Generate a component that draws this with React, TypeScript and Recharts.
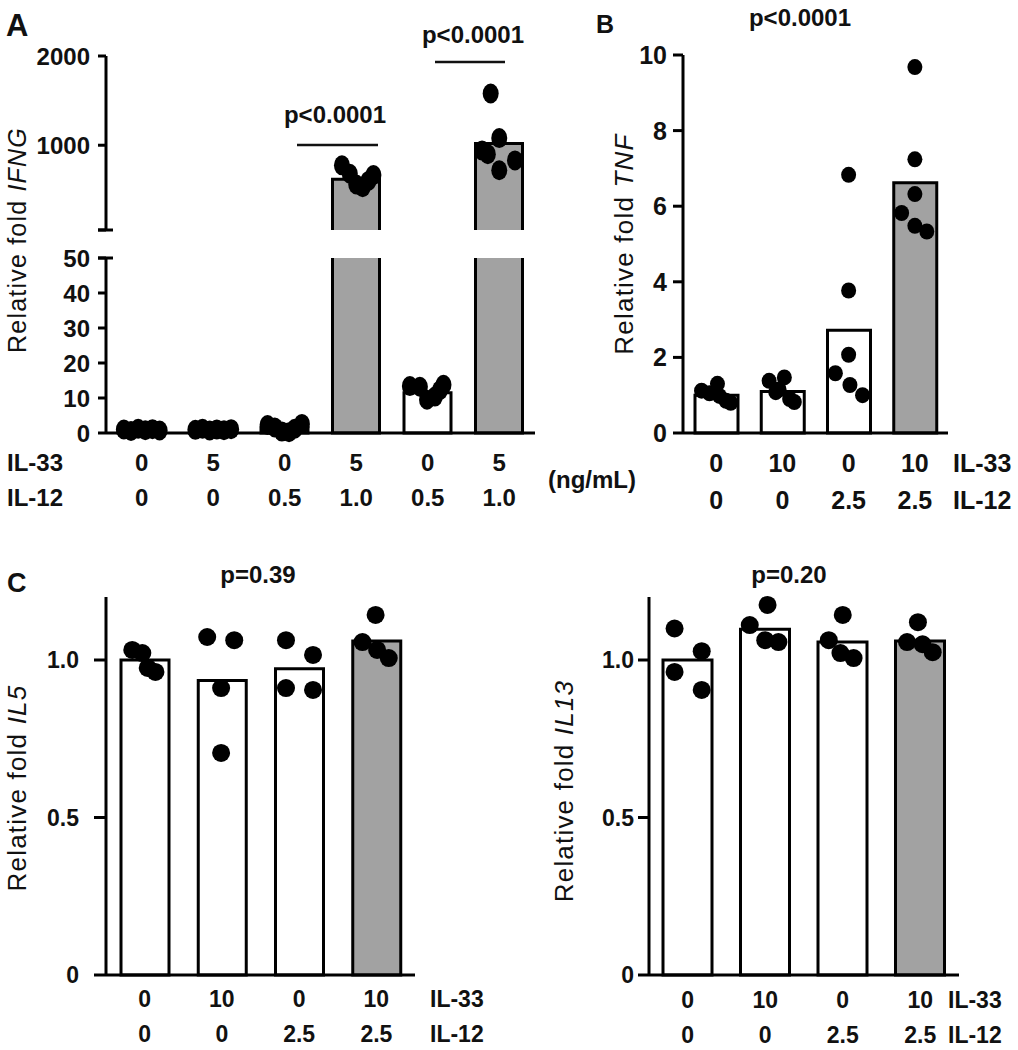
import React from 'react';
import { ComposedChart, Bar, Scatter, XAxis, YAxis } from 'recharts';

const FONT = '"Liberation Sans", Arial, Helvetica, sans-serif';
const GRAY = '#a2a2a2';

// ---- Panel A: IFNG ----
const ifngIL33 = ['0', '5', '0', '5', '0', '5'];
const ifngIL12 = ['0', '0', '0.5', '1.0', '0.5', '1.0'];
const ifngMeans = [1.0, 1.0, 1.5, 620, 11.5, 1020];
const ifngFilled = [false, false, false, true, false, true];
const ifngPoints = [
  [1.0, 0.6, 1.2, 0.8, 1.1, 0.7],
  [0.9, 1.2, 0.7, 1.0, 0.8, 1.1],
  [2.3, 1.6, 0.4, 0.2, 1.2, 2.6],
  [775, 680, 560, 530, 600, 665],
  [13.4, 13.2, 9.5, 10.4, 12.2, 13.8],
  [1580, 1080, 940, 900, 830, 720],
];
const ifngJitter = [
  [-0.25, -0.15, -0.05, 0.05, 0.15, 0.25],
  [-0.25, -0.15, -0.05, 0.05, 0.15, 0.25],
  [-0.24, -0.14, -0.04, 0.06, 0.14, 0.24],
  [-0.2, -0.09, 0.0, 0.09, 0.17, 0.24],
  [-0.25, -0.11, -0.01, 0.1, 0.17, 0.22],
  [-0.12, 0.0, -0.24, -0.16, 0.22, 0.0],
];
const ifngBreak = 50;
const ifngTopTicks = [50, 1000, 2000];
const ifngLowTicks = [0, 10, 20, 30, 40, 50];

// ---- Panel B: TNF ----
const tnfIL33 = ['0', '10', '0', '10'];
const tnfIL12 = ['0', '0', '2.5', '2.5'];
const tnfMeans = [1.0, 1.1, 2.72, 6.62];
const tnfFilled = [false, false, false, true];
const tnfPoints = [
  [1.12, 1.05, 1.3, 0.98, 0.85, 0.8],
  [1.38, 1.08, 1.47, 1.15, 0.9, 0.82],
  [6.83, 3.77, 2.07, 1.58, 1.27, 1.0],
  [9.68, 7.24, 6.32, 5.82, 5.48, 5.33],
];
const tnfJitter = [
  [-0.22, -0.1, 0.02, 0.05, 0.15, 0.22],
  [-0.2, -0.1, 0.03, -0.05, 0.11, 0.18],
  [0.0, 0.0, 0.0, -0.2, 0.02, 0.21],
  [0.0, 0.0, 0.0, -0.2, 0.0, 0.18],
];
const tnfTicks = [0, 2, 4, 6, 8, 10];

// ---- Panel C: IL5 / IL13 ----
const cIL33 = ['0', '10', '0', '10'];
const cIL12 = ['0', '0', '2.5', '2.5'];
const cFilled = [false, false, false, true];
const il5Means = [1.0, 0.935, 0.972, 1.06];
const il5Points = [
  [1.032, 1.022, 0.975, 0.962],
  [1.073, 1.063, 0.911, 0.705],
  [1.063, 1.016, 0.911, 0.905],
  [1.143, 1.057, 1.032, 1.006],
];
const il5Jitter = [
  [-0.16, -0.03, 0.04, 0.14],
  [-0.19, 0.16, -0.01, -0.01],
  [-0.17, 0.18, -0.17, 0.18],
  [-0.01, -0.18, 0.01, 0.16],
];
const il13Means = [1.0, 1.098, 1.057, 1.06];
const il13Points = [
  [1.1, 1.028, 0.962, 0.905],
  [1.175, 1.111, 1.063, 1.057],
  [1.143, 1.063, 1.022, 1.006],
  [1.12, 1.057, 1.05, 1.025],
];
const il13Jitter = [
  [-0.17, 0.18, -0.17, 0.18],
  [0.03, -0.2, 0.0, 0.17],
  [0.0, -0.18, -0.03, 0.14],
  [-0.03, -0.17, 0.03, 0.16],
];
const cTicks = [0, 0.5, 1.0];

function toBars(means: number[], filled: boolean[], il33: string[], il12: string[], map = (v: number) => v) {
  return means.map((m, i) => ({ name: `${il33[i]}/${il12[i]}`, v: map(m), raw: m, filled: filled[i] }));
}

function toDots(points: number[][], jitter: number[][], keep = (v: number) => true) {
  const out: { x: number; v: number }[] = [];
  points.forEach((grp, i) =>
    grp.forEach((v, k) => {
      if (keep(v)) out.push({ x: i + jitter[i][k], v });
    })
  );
  return out;
}

// bar with optional missing top/bottom edge (for the broken axis)
function barShape(mode: 'top' | 'low' | 'full') {
  return (p: any) => {
    const { x, y, width: w, height: h, payload } = p;
    if (h == null || isNaN(h)) return <g />;
    const fill = payload.filled ? GRAY : '#fff';
    let d = `M${x},${y} H${x + w} V${y + h} H${x} Z`;
    if (mode === 'top') d = `M${x},${y + h} V${y} H${x + w} V${y + h}`;
    if (mode === 'low' && payload.raw > ifngBreak) d = `M${x},${y} V${y + h} H${x + w} V${y}`;
    return (
      <g>
        <rect x={x} y={y} width={w} height={h} fill={fill} />
        <path d={d} fill="none" stroke="#000" strokeWidth={3} strokeLinejoin="miter" />
      </g>
    );
  };
}

function dotShape(rx: number, ry: number) {
  return (p: any) => <ellipse cx={p.cx} cy={p.cy} rx={rx} ry={ry} fill="#000" />;
}

function yTick(size: number, hide: number[] = [], fmt = (v: number) => String(v)) {
  return (p: any) => {
    const v = p.payload.value;
    if (hide.includes(v)) return <g />;
    return (
      <text x={p.x} y={p.y} dy="0.36em" textAnchor="end" fontFamily={FONT} fontWeight="bold" fontSize={size} fill="#111">
        {fmt(v)}
      </text>
    );
  };
}

function xTick(rows: string[][], offs: number[], size: number) {
  return (p: any) => (
    <g>
      {rows.map((r, k) => (
        <text key={k} x={p.x} y={p.y + offs[k]} textAnchor="middle" fontFamily={FONT} fontWeight="bold" fontSize={size} fill="#111">
          {r[p.index]}
        </text>
      ))}
    </g>
  );
}

const axisLine = { stroke: '#000', strokeWidth: 3 };
const tickLine = { stroke: '#000', strokeWidth: 3 };

function Label({ x, y, size = 24, anchor = 'start', children }: any) {
  return (
    <text x={x} y={y} textAnchor={anchor} fontFamily={FONT} fontWeight="bold" fontSize={size} fill="#111">
      {children}
    </text>
  );
}

function YTitle({ cx, cy, gene, size = 26 }: any) {
  return (
    <text transform={`translate(${cx},${cy}) rotate(-90)`} textAnchor="middle" dy="0.35em" fontFamily={FONT} fontSize={size} letterSpacing={1.2} fill="#111">
      Relative fold <tspan fontStyle="italic">{gene}</tspan>
    </text>
  );
}

function Panel({ data, dots, domain, ticks, tickFn, tickSize, tickMargin, xFn, n, barSize, r, mode, width, height, margin, hideX }: any) {
  return (
    <ComposedChart width={width} height={height} data={data} margin={margin}>
      <XAxis xAxisId="cat" dataKey="name" type="category" hide={hideX} height={hideX ? 0 : 30} interval={0} axisLine={axisLine} tickLine={false} tickSize={0} tickMargin={0} tick={xFn} />
      <XAxis xAxisId="num" dataKey="x" type="number" domain={[-0.5, n - 0.5]} hide height={0} />
      <YAxis dataKey="v" width={60} domain={domain} ticks={ticks} interval={0} axisLine={axisLine} tickLine={tickLine} tickSize={tickSize} tickMargin={tickMargin} tick={tickFn} />
      <Bar xAxisId="cat" dataKey="v" barSize={barSize} isAnimationActive={false} shape={barShape(mode)} />
      <Scatter xAxisId="num" data={dots} dataKey="v" isAnimationActive={false} shape={dotShape(r[0], r[1])} />
    </ComposedChart>
  );
}

export default function App() {
  const aTopBars = toBars(ifngMeans, ifngFilled, ifngIL33, ifngIL12, (v) => (v > ifngBreak ? v : (null as any)));
  const aLowBars = toBars(ifngMeans, ifngFilled, ifngIL33, ifngIL12, (v) => Math.min(v, ifngBreak));
  const aTopDots = toDots(ifngPoints, ifngJitter, (v) => v > ifngBreak);
  const aLowDots = toDots(ifngPoints, ifngJitter, (v) => v <= ifngBreak);
  const bBars = toBars(tnfMeans, tnfFilled, tnfIL33, tnfIL12);
  const bDots = toDots(tnfPoints, tnfJitter);
  const c5Bars = toBars(il5Means, cFilled, cIL33, cIL12);
  const c5Dots = toDots(il5Points, il5Jitter);
  const c13Bars = toBars(il13Means, cFilled, cIL33, cIL12);
  const c13Dots = toDots(il13Points, il13Jitter);
  const cFmt = (v: number) => (v === 0 ? '0' : v.toFixed(1));

  return (
    <div style={{ position: 'absolute', left: 0, top: 0, width: 1018, height: 1050, background: '#fff' }}>
      <div style={{ position: 'absolute', left: 0, top: 0 }}>
        <Panel data={aTopBars} dots={aTopDots} domain={[ifngBreak, 2000]} ticks={ifngTopTicks} tickFn={yTick(24, [50])} tickSize={8} tickMargin={8} n={6} barSize={47} r={[8, 10]} mode="top" width={560} height={240} margin={{ top: 56, right: 25, bottom: 10, left: 46 }} hideX />
      </div>
      <div style={{ position: 'absolute', left: 0, top: 240 }}>
        <Panel data={aLowBars} dots={aLowDots} domain={[0, ifngBreak]} ticks={ifngLowTicks} tickFn={yTick(24)} tickSize={8} tickMargin={8} xFn={xTick([ifngIL33, ifngIL12], [38, 73], 24)} n={6} barSize={47} r={[8, 10]} mode="low" width={560} height={290} margin={{ top: 18, right: 25, bottom: 67, left: 46 }} />
      </div>
      <div style={{ position: 'absolute', left: 560, top: 0 }}>
        <Panel data={bBars} dots={bDots} domain={[0, 10]} ticks={tnfTicks} tickFn={yTick(25)} tickSize={10} tickMargin={6} xFn={xTick([tnfIL33, tnfIL12], [39, 76], 25)} n={4} barSize={43} r={[7.5, 8]} mode="full" width={458} height={530} margin={{ top: 55, right: 70, bottom: 67, left: 63 }} />
      </div>
      <div style={{ position: 'absolute', left: 0, top: 560 }}>
        <Panel data={c5Bars} dots={c5Dots} domain={[0, 1.2]} ticks={cTicks} tickFn={yTick(23, [], cFmt)} tickSize={12} tickMargin={15} xFn={xTick([cIL33, cIL12], [32, 67], 23)} n={4} barSize={48} r={[9, 9]} mode="full" width={500} height={490} margin={{ top: 37, right: 85, bottom: 45, left: 46 }} />
      </div>
      <div style={{ position: 'absolute', left: 520, top: 560 }}>
        <Panel data={c13Bars} dots={c13Dots} domain={[0, 1.2]} ticks={cTicks} tickFn={yTick(23, [], cFmt)} tickSize={11} tickMargin={4} xFn={xTick([cIL33, cIL12], [33, 68], 23)} n={4} barSize={49} r={[9, 9]} mode="full" width={498} height={490} margin={{ top: 37, right: 59, bottom: 45, left: 69 }} />
      </div>

      <svg width={1018} height={1050} style={{ position: 'absolute', left: 0, top: 0, pointerEvents: 'none' }}>
        {/* end caps of the broken IFNG axis */}
        <line x1={98} x2={113} y1={230} y2={230} stroke="#000" strokeWidth={3} />
        <line x1={98} x2={113} y1={258} y2={258} stroke="#000" strokeWidth={3} />

        <Label x={6} y={36} size={31}>A</Label>
        <Label x={596} y={33} size={25}>B</Label>
        <Label x={7} y={592} size={27}>C</Label>

        <Label x={335} y={123} anchor="middle">p&lt;0.0001</Label>
        <line x1={297} x2={378} y1={145} y2={145} stroke="#111" strokeWidth={2.5} />
        <Label x={473} y={43} anchor="middle">p&lt;0.0001</Label>
        <line x1={435} x2={505} y1={62} y2={62} stroke="#111" strokeWidth={2.5} />
        <Label x={800} y={26} anchor="middle">p&lt;0.0001</Label>
        <Label x={258} y={583} anchor="middle">p=0.39</Label>
        <Label x={789} y={583} anchor="middle">p=0.20</Label>

        <Label x={7} y={471}>IL-33</Label>
        <Label x={7} y={506}>IL-12</Label>
        <Label x={548} y={488}>(ng/mL)</Label>
        <Label x={953} y={472} size={25}>IL-33</Label>
        <Label x={953} y={509} size={25}>IL-12</Label>
        <Label x={430} y={1007} size={23}>IL-33</Label>
        <Label x={430} y={1042} size={23}>IL-12</Label>
        <Label x={948} y={1008} size={23}>IL-33</Label>
        <Label x={948} y={1043} size={23}>IL-12</Label>

        <YTitle cx={17} cy={240} gene="IFNG" size={25} />
        <YTitle cx={624} cy={244} gene="TNF" />
        <YTitle cx={17} cy={788} gene="IL5" />
        <YTitle cx={564} cy={791} gene="IL13" />
      </svg>
    </div>
  );
}
